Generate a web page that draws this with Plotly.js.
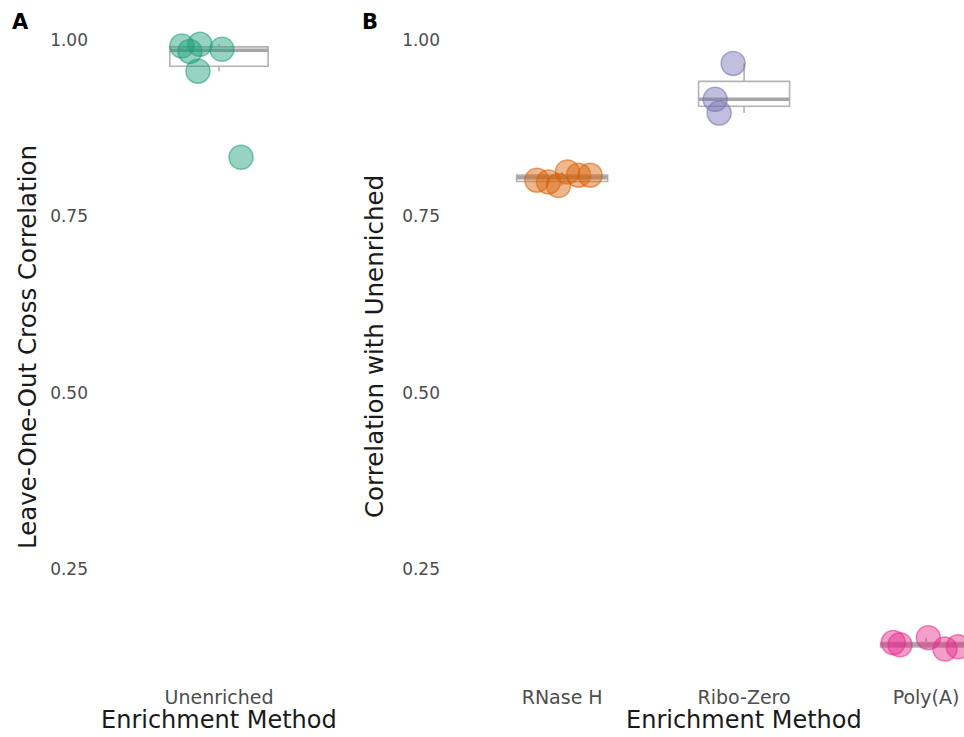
<!DOCTYPE html>
<html>
<head>
<meta charset="utf-8">
<script src="https://cdn.plot.ly/plotly-3.0.1.min.js"></script>
<style>html,body{margin:0;padding:0;background:#fff;}#chart{width:964px;height:737px;}</style>
</head>
<body>
<div id="chart"></div>
<script>
// ---- data ----
const catA = ['Unenriched'];
const catB = ['RNase H', 'Ribo-Zero', 'Poly(A)'];

const unenrichedVals = [0.9915, 0.984, 0.994, 0.987, 0.956, 0.834];
const unenrichedJit  = [-0.189, -0.148, -0.097, 0.015, -0.107, 0.112];

const rnaseHVals = [0.8015, 0.799, 0.794, 0.813, 0.8086, 0.8086];
const rnaseHJit  = [-0.139, -0.075, -0.020, 0.029, 0.090, 0.154];

const riboZeroVals = [0.967, 0.916, 0.8965];
const riboZeroJit  = [-0.060, -0.159, -0.137];

const polyAVals = [0.146, 0.143, 0.153, 0.137, 0.140];
const polyAJit  = [-0.180, -0.143, 0.013, 0.104, 0.177];

const yTicks = [0.25, 0.50, 0.75, 1.00];

const colA = ['27,158,119'];
const colB = ['217,95,2', '117,112,179', '231,41,138'];

// ---- helpers ----
function quant(sorted, p) {
  const h = (sorted.length - 1) * p;
  const lo = Math.floor(h), hi = Math.ceil(h);
  return sorted[lo] + (h - lo) * (sorted[hi] - sorted[lo]);
}
function stats(vals) {
  const s = vals.slice().sort((a, b) => a - b);
  const q1 = quant(s, 0.25), med = quant(s, 0.5), q3 = quant(s, 0.75);
  const iqr = q3 - q1;
  const lo = s.filter(v => v >= q1 - 1.5 * iqr)[0];
  const hiArr = s.filter(v => v <= q3 + 1.5 * iqr);
  const hi = hiArr[hiArr.length - 1];
  return {q1, med, q3, lo, hi};
}

const traces = [];
function addGroup(idx, vals, jit, rgb, xa, ya) {
  const st = stats(vals);
  traces.push({
    type: 'box', x: [idx], q1: [st.q1], median: [st.med], q3: [st.q3],
    lowerfence: [st.lo], upperfence: [st.hi], width: 0.5,
    fillcolor: 'rgba(0,0,0,0)', line: {color: '#b3b3b3', width: 1.6},
    whiskerwidth: 0, boxpoints: false, hoverinfo: 'skip',
    xaxis: xa, yaxis: ya, showlegend: false
  });
  traces.push({
    type: 'scatter', mode: 'lines', x: [idx - 0.25, idx + 0.25], y: [st.med, st.med],
    line: {color: '#a6a6a6', width: 3.5}, hoverinfo: 'skip',
    xaxis: xa, yaxis: ya, showlegend: false
  });
  traces.push({
    type: 'scatter', mode: 'markers',
    x: vals.map((v, i) => idx + jit[i]), y: vals,
    marker: {size: 24, color: 'rgba(' + rgb + ',0.45)', line: {color: 'rgba(' + rgb + ',0.55)', width: 1.5}},
    xaxis: xa, yaxis: ya, showlegend: false
  });
}

addGroup(0, unenrichedVals, unenrichedJit, colA[0], 'x', 'y');
addGroup(0, rnaseHVals, rnaseHJit, colB[0], 'x2', 'y2');
addGroup(1, riboZeroVals, riboZeroJit, colB[1], 'x2', 'y2');
addGroup(2, polyAVals, polyAJit, colB[2], 'x2', 'y2');

const W = 964, H = 737;
const yDom = [(H - 680) / H, (H - 14) / H];
const yRange = [0.093, 1.037];
const tickFontY = {family: 'DejaVu Sans', size: 17, color: '#4d4d4d'};
const tickFontX = {family: 'DejaVu Sans', size: 19, color: '#4d4d4d'};
const titleFont = {family: 'DejaVu Sans', size: 24, color: '#1a1a1a'};

function yAxis(anchor) {
  return {
    domain: yDom, range: yRange, anchor: anchor,
    tickmode: 'array', tickvals: yTicks, ticktext: yTicks.map(v => v.toFixed(2)),
    showgrid: false, zeroline: false, showline: false, ticks: '',
    tickfont: tickFontY, ticklabelstandoff: 12
  };
}
function xAxis(dom, rng, cats, anchor) {
  return {
    domain: dom, range: rng, anchor: anchor,
    tickmode: 'array', tickvals: cats.map((c, i) => i), ticktext: cats,
    showgrid: false, zeroline: false, showline: false, ticks: '',
    tickfont: tickFontX, ticklabelstandoff: 4
  };
}

function ann(text, px, py, font, angle) {
  return {text: text, xref: 'paper', yref: 'paper', x: px / W, y: 1 - py / H,
    xanchor: 'center', yanchor: 'middle', showarrow: false, font: font, textangle: angle || 0,
    borderpad: 0};
}

const layout = {
  width: W, height: H,
  margin: {l: 0, r: 0, t: 0, b: 0},
  paper_bgcolor: '#ffffff', plot_bgcolor: '#ffffff',
  showlegend: false,
  xaxis: xAxis([101 / W, 337 / W], [-0.6, 0.6], catA, 'y'),
  yaxis: yAxis('x'),
  xaxis2: xAxis([453 / W, 1], [-0.6, (964 - 562) / 182], catB, 'y2'),
  yaxis2: yAxis('x2'),
  annotations: [
    ann('<b>A</b>', 20, 22, {family: 'DejaVu Sans', size: 21, color: '#000'}),
    ann('<b>B</b>', 370, 22, {family: 'DejaVu Sans', size: 21, color: '#000'}),
    ann('Leave-One-Out Cross Correlation', 27, 347, {family: 'DejaVu Sans', size: 24.5, color: '#1a1a1a'}, -90),
    ann('Correlation with Unenriched', 374, 347, {family: 'DejaVu Sans', size: 24.5, color: '#1a1a1a'}, -90),
    ann('Enrichment Method', 219, 720, titleFont),
    ann('Enrichment Method', 744, 720, titleFont)
  ]
};

Plotly.newPlot('chart', traces, layout, {displayModeBar: false, staticPlot: true});
</script>
</body>
</html>
